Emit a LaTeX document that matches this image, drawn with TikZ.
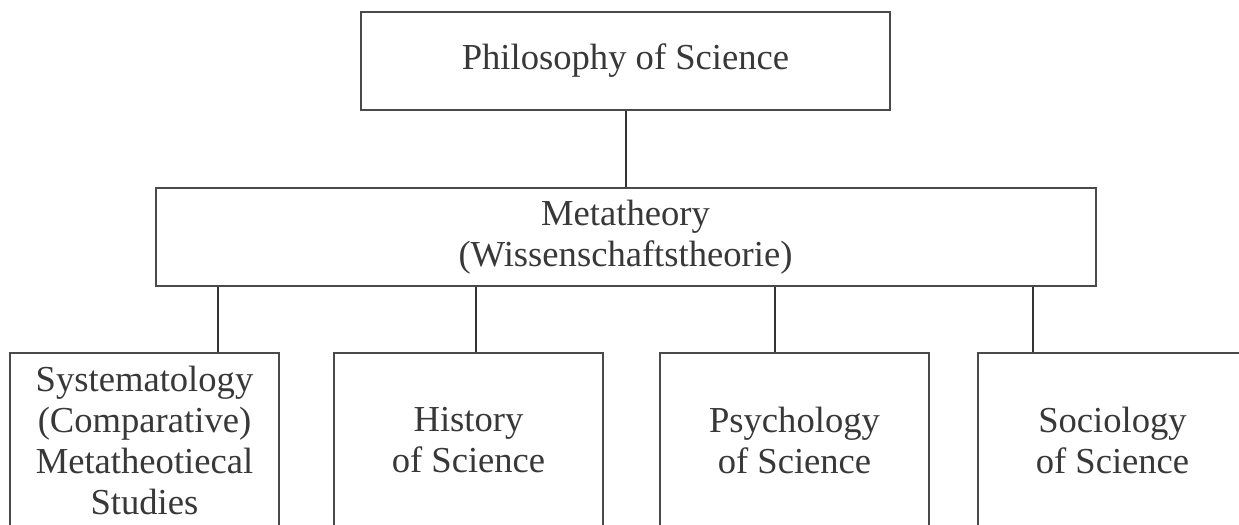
\documentclass[tikz,border=0pt]{standalone}
\usepackage{fontspec}
\setmainfont{Liberation Serif}
\usetikzlibrary{positioning}
\definecolor{boxgray}{HTML}{4A4A4A}
\definecolor{textgray}{HTML}{383838}
\tikzset{
    node distance =38pt and 26.5pt,
    box/.style ={rectangle, draw=boxgray, line width=1pt, align=center, inner sep=0pt,
        text=textgray, font=\fontsize{18.3}{20.5}\selectfont},
    topbox/.style = {box, minimum width=264.5pt, minimum height=49pt},
    midbox/.style = {box, minimum width=470pt, minimum height=49pt},
    fieldbox/.style = {box, minimum width=134.5pt, minimum height=87pt},
    link/.style={draw=black!80, line width=1pt}
}

\begin{document}
\begin{tikzpicture}[x=0.5pt,y=-0.5pt]
        \useasboundingbox (0,0) rectangle (1239,525);

        \node[topbox] (philo) at (625.5, 61) {Philosophy of Science};
        \node[midbox] (meta) [below =of philo] {Metatheory\\(Wissenschaftstheorie)};

        \node[fieldbox] (sys) at (144.5, 440) {Systematology\\(Comparative)\\Metatheotiecal\\Studies};
        \node[fieldbox] (hist) [right =26.5pt of sys] {History\\of Science};
        \node[fieldbox] (psych) [right =27.5pt of hist] {Psychology\\of Science};
        \node[fieldbox] (socio) [right =23.5pt of psych] {Sociology\\of Science};

        % drop points under the metatheory box
        \coordinate (c1) at (218, 0);
        \coordinate (c2) at (476, 0);
        \coordinate (c3) at (775, 0);
        \coordinate (c4) at (1033, 0);

        \path[link] (philo.south) -- (meta.north -| philo.south);
        \path[link] (meta.south -| c1) -- (sys.north -| c1);
        \path[link] (meta.south -| c2) -- (hist.north -| c2);
        \path[link] (meta.south -| c3) -- (psych.north -| c3);
        \path[link] (meta.south -| c4) -- (socio.north -| c4);
    \end{tikzpicture}
\end{document}
